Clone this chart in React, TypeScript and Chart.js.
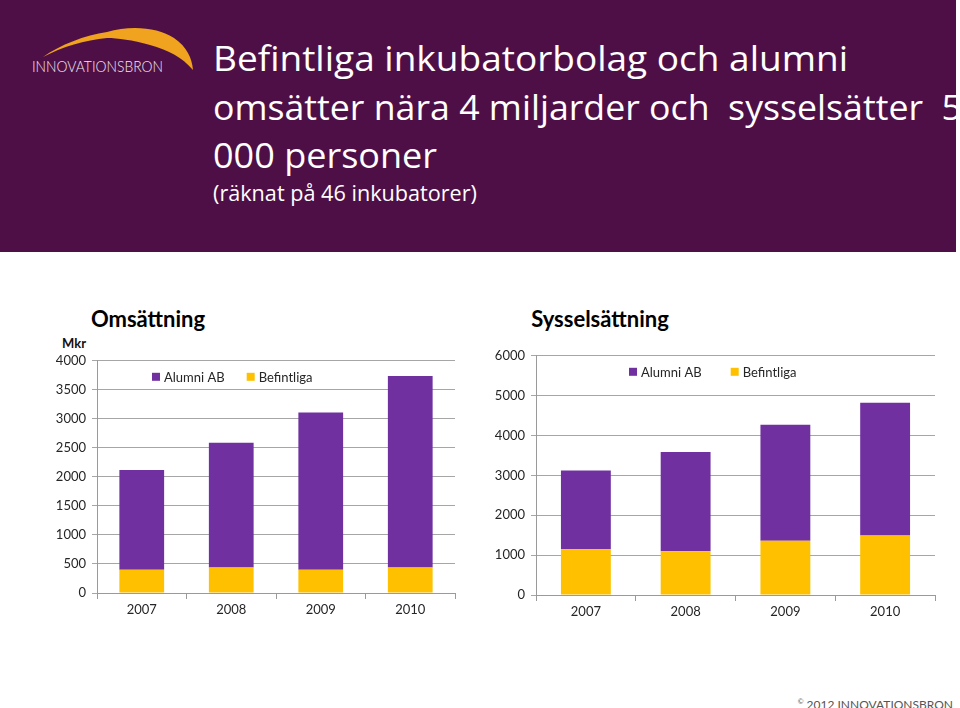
import React, { useEffect, useRef } from "react";
import { Chart, registerables } from "chart.js";

Chart.register(...registerables);

const years = ["2007", "2008", "2009", "2010"];
const seriesLabels = ["Alumni AB", "Befintliga"];
const omsAlumni = [1720, 2150, 2710, 3300];
const omsBefintliga = [400, 440, 400, 440];
const sysAlumni = [1970, 2490, 2910, 3330];
const sysBefintliga = [1150, 1100, 1360, 1490];
const omsMax = 4000;
const omsStep = 500;
const sysMax = 6000;
const sysStep = 1000;

const PURPLE = "#7030A0";
const GOLD = "#FFC000";
const FONT = "Lato, 'Open Sans', sans-serif";

function insideLegend(dx: number, gap: number) {
  return {
    id: "insideLegend",
    afterDraw(chart: any) {
      const { ctx, chartArea } = chart;
      const items = [...chart.data.datasets].reverse();
      let x = chartArea.left + dx;
      const y = chartArea.top + 16;
      ctx.save();
      ctx.font = "13px " + FONT;
      ctx.textBaseline = "middle";
      ctx.textAlign = "left";
      items.forEach((ds: any) => {
        ctx.fillStyle = ds.backgroundColor;
        ctx.fillRect(x, y - 4, 8, 8);
        ctx.fillStyle = "#262626";
        ctx.fillText(ds.label, x + 12, y + 1);
        x += 12 + ctx.measureText(ds.label).width + gap;
      });
      ctx.restore();
    },
  };
}

type Props = {
  alumni: number[];
  befintliga: number[];
  max: number;
  step: number;
  left: number;
  top: number;
  width: number;
  height: number;
  axisWidth: number;
  dx: number;
  gap: number;
};

function StackChart(p: Props) {
  const ref = useRef<HTMLCanvasElement | null>(null);
  useEffect(() => {
    if (!ref.current) return;
    const chart = new Chart(ref.current, {
      type: "bar",
      data: {
        labels: years,
        datasets: [
          { label: seriesLabels[1], data: p.befintliga, backgroundColor: GOLD, barPercentage: 0.5, categoryPercentage: 1 },
          { label: seriesLabels[0], data: p.alumni, backgroundColor: PURPLE, barPercentage: 0.5, categoryPercentage: 1 },
        ],
      },
      options: {
        responsive: false,
        animation: false,
        layout: { padding: { top: 0, right: 5, left: 0, bottom: 0 } },
        plugins: { legend: { display: false }, tooltip: { enabled: false } },
        scales: {
          x: {
            stacked: true,
            grid: { offset: true, drawOnChartArea: false, drawTicks: true, tickLength: 6, color: "#9a9a9a" },
            border: { color: "#9a9a9a" },
            ticks: { color: "#262626", font: { family: FONT, size: 13 }, padding: 3 },
            afterFit: (s: any) => {
              s.height = 30;
            },
          },
          y: {
            stacked: true,
            min: 0,
            max: p.max,
            ticks: {
              stepSize: p.step,
              color: "#262626",
              font: { family: FONT, size: 13 },
              padding: 6,
              callback: (v: any) => String(v),
            },
            grid: { color: "#a6a6a6", tickLength: 5 },
            border: { color: "#9a9a9a" },
            afterFit: (s: any) => {
              s.width = p.axisWidth;
            },
          },
        },
      },
      plugins: [insideLegend(p.dx, p.gap)],
    } as any);
    return () => chart.destroy();
  }, []);
  return (
    <canvas
      ref={ref}
      width={p.width}
      height={p.height}
      style={{ position: "absolute", left: p.left, top: p.top, width: p.width, height: p.height, display: "block" }}
    />
  );
}

export default function App() {
  return (
    <div style={{ position: "absolute", left: 0, top: 0, width: 960, height: 708, background: "#fff", overflow: "hidden" }}>
      <svg width={956} height={252} style={{ position: "absolute", left: 0, top: 0, display: "block" }}>
        <rect x={0} y={0} width={956} height={252} fill="#4e0f47" />
        <path
          d="M43,57 C60,45 85,35 107,32 C130,25 158,27 174,38 C187,47 192,58 193,70 C182,57 168,50 150,45 C132,40 118,38 107,38 C85,40 62,47 43,57 Z"
          fill="#EFA31E"
        />
        <text x={32} y={72} fontFamily="Lato, sans-serif" fontWeight={300} fontSize={15} fill="#f3e6f1" textLength={131} lengthAdjust="spacingAndGlyphs">
          INNOVATIONSBRON
        </text>
        <g fontFamily="'Open Sans', sans-serif" fill="#ffffff" style={{ whiteSpace: "pre" }}>
          <text x={213} y={71} fontSize={35} textLength={635} lengthAdjust="spacingAndGlyphs">Befintliga inkubatorbolag och alumni</text>
          <text x={213} y={120} fontSize={35} textLength={749} lengthAdjust="spacingAndGlyphs" xmlSpace="preserve">omsätter nära 4 miljarder och  sysselsätter  5</text>
          <text x={213} y={168} fontSize={35} textLength={224} lengthAdjust="spacingAndGlyphs">000 personer</text>
          <text x={213} y={201} fontSize={21} textLength={264} lengthAdjust="spacingAndGlyphs">(räknat på 46 inkubatorer)</text>
        </g>
      </svg>

      <div style={{ position: "absolute", left: 88, top: 305, width: 120, textAlign: "center", fontFamily: FONT, fontWeight: 700, fontSize: 22, color: "#000", lineHeight: "28px" }}>Omsättning</div>
      <div style={{ position: "absolute", left: 527, top: 305, width: 146, textAlign: "center", fontFamily: FONT, fontWeight: 700, fontSize: 22, color: "#000", lineHeight: "28px" }}>Sysselsättning</div>
      <div style={{ position: "absolute", left: 62, top: 335, fontFamily: FONT, fontWeight: 700, fontSize: 13, color: "#111", lineHeight: "16px" }}>Mkr</div>

      <StackChart alumni={omsAlumni} befintliga={omsBefintliga} max={omsMax} step={omsStep} left={45} top={347} width={415} height={276} axisWidth={52} dx={55} gap={22} />
      <StackChart alumni={sysAlumni} befintliga={sysBefintliga} max={sysMax} step={sysStep} left={490} top={342} width={450} height={283} axisWidth={46} dx={93} gap={29} />

      <div style={{ position: "absolute", right: 7, top: 693, fontFamily: FONT, fontSize: 12, color: "#555", lineHeight: "16px", whiteSpace: "nowrap" }}>
        <sup style={{ fontSize: 7 }}>©</sup> 2012 INNOVATIONSBRON
      </div>
    </div>
  );
}
